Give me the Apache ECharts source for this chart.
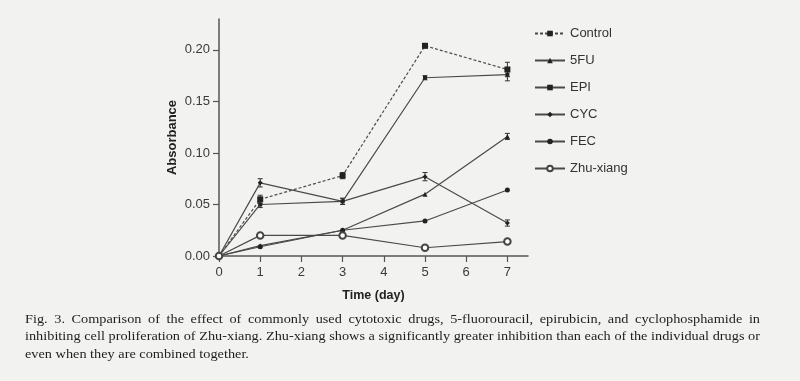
<!DOCTYPE html>
<html><head><meta charset="utf-8">
<script src="https://cdn.jsdelivr.net/npm/echarts@6/dist/echarts.min.js"></script>
<style>html,body{margin:0;padding:0;background:#f2f2f0;}#c{width:800px;height:381px;}</style>
</head><body><div id="c"></div>
<script>
const days = [0, 1, 3, 5, 7];
const xTicks = [0, 1, 2, 3, 4, 5, 6, 7];
const yTicks = [0, 0.05, 0.10, 0.15, 0.20];
const seriesNames = ['Control', '5FU', 'EPI', 'CYC', 'FEC', 'Zhu-xiang'];
const control = [0, 0.055, 0.078, 0.204, 0.181];
const fu5 = [0, 0.010, 0.025, 0.060, 0.116];
const epi = [0, 0.050, 0.053, 0.173, 0.176];
const cyc = [0, 0.071, 0.053, 0.077, 0.032];
const fec = [0, 0.009, 0.025, 0.034, 0.064];
const zhu = [0, 0.020, 0.020, 0.008, 0.014];
const controlErr = [0, 0.004, 0.003, 0.002, 0.007];
const fu5Err = [0, 0, 0, 0, 0.003];
const epiErr = [0, 0.003, 0.003, 0.002, 0.006];
const cycErr = [0, 0.004, 0.003, 0.004, 0.003];
const fecErr = [0, 0, 0, 0, 0];
const zhuErr = [0, 0, 0, 0, 0];
const caption = [
  'Fig. 3. Comparison of the effect of commonly used cytotoxic drugs, 5-fluorouracil, epirubicin, and cyclophosphamide in',
  'inhibiting cell proliferation of Zhu-xiang. Zhu-xiang shows a significantly greater inhibition than each of the individual drugs or',
  'even when they are combined together.'
];

const values = [control, fu5, epi, cyc, fec, zhu];
const errs = [controlErr, fu5Err, epiErr, cycErr, fecErr, zhuErr];
const symbols = ['rect', 'triangle', 'rect', 'diamond', 'circle', 'emptyCircle'];
const sizes = [6, 5, 4, 5, 5, 6.5];
const C = '#4a4a4a';
const BG = '#f2f2f0';

const series = [];
values.forEach((v, i) => {
  series.push({
    name: seriesNames[i], type: 'line',
    data: days.map((d, k) => [d, v[k]]),
    symbol: symbols[i], symbolSize: sizes[i],
    color: i === 5 ? '#444' : '#222',
    lineStyle: { color: C, width: 1.2, type: i === 0 ? [3, 2] : 'solid' },
    itemStyle: { color: i === 5 ? '#444' : '#222', borderWidth: i === 5 ? 0.7 : 0 },
    emphasis: { disabled: true }, z: 3
  });
  series.push({
    type: 'custom', silent: true, z: 2,
    data: days.map((d, k) => [d, v[k], errs[i][k]]),
    renderItem: function (params, api) {
      const e = api.value(2);
      if (!e) return null;
      const x = api.value(0), y = api.value(1);
      const p1 = api.coord([x, y + e]), p2 = api.coord([x, y - e]);
      const w = 2.5;
      const st = { stroke: '#333', lineWidth: 1 };
      return { type: 'group', children: [
        { type: 'line', shape: { x1: p1[0], y1: p1[1], x2: p2[0], y2: p2[1] }, style: st },
        { type: 'line', shape: { x1: p1[0] - w, y1: p1[1], x2: p1[0] + w, y2: p1[1] }, style: st },
        { type: 'line', shape: { x1: p2[0] - w, y1: p2[1], x2: p2[0] + w, y2: p2[1] }, style: st }
      ]};
    }
  });
});

// caption layout: justified lines (text positions only)
const capFont = '13px "Liberation Serif"';
const capLeft = 25, capRight = 760, capSX = 1.1;
const capTop = [313, 330.5, 348];
const mctx = document.createElement('canvas').getContext('2d');
mctx.font = capFont;
const graphics = [];
caption.forEach((line, li) => {
  const words = line.split(' ');
  const justify = li < caption.length - 1;
  const ww = words.map(w => mctx.measureText(w).width * capSX);
  const sp = mctx.measureText(' ').width * capSX;
  const total = ww.reduce((a, b) => a + b, 0);
  const gap = justify ? (capRight - capLeft - total) / (words.length - 1) : sp;
  let x = capLeft;
  words.forEach((w, k) => {
    graphics.push({
      type: 'text', x: x, y: capTop[li], scaleX: capSX, silent: true,
      style: { text: w, fill: '#1e1e1e', font: capFont, verticalAlign: 'top' }
    });
    x += ww[k] + gap;
  });
});

const chart = echarts.init(document.getElementById('c'), null, { renderer: 'canvas' });
chart.setOption({
  backgroundColor: BG,
  animation: false,
  grid: { left: 219, right: 272, top: 19, bottom: 125 },
  xAxis: {
    type: 'value', min: 0, max: 7.5, interval: 1,
    axisLine: { lineStyle: { color: '#555', width: 1.5 } },
    axisTick: { lineStyle: { color: '#555', width: 1.2 }, length: 6 },
    axisLabel: { color: '#3a3a3a', fontFamily: 'Liberation Sans', fontSize: 13, margin: 10, showMaxLabel: false,
      formatter: v => xTicks.includes(v) ? String(v) : '' },
    splitLine: { show: false },
    name: 'Time (day)', nameLocation: 'middle', nameGap: 33,
    nameTextStyle: { color: '#222', fontFamily: 'Liberation Sans', fontSize: 12.5, fontWeight: 'bold' }
  },
  yAxis: {
    type: 'value', min: 0, max: 0.23, interval: 0.05,
    axisLine: { show: true, lineStyle: { color: '#555', width: 1.5 } },
    axisTick: { show: true, lineStyle: { color: '#555', width: 1.2 }, length: 6 },
    axisLabel: { color: '#3a3a3a', fontFamily: 'Liberation Sans', fontSize: 13, margin: 9, showMaxLabel: false,
      formatter: v => { const t = yTicks.find(t => Math.abs(t - v) < 1e-9); return t === undefined ? '' : t.toFixed(2); } },
    splitLine: { show: false },
    name: 'Absorbance', nameLocation: 'middle', nameGap: 40,
    nameTextStyle: { color: '#222', fontFamily: 'Liberation Sans', fontSize: 13, fontWeight: 'bold' }
  },
  legend: {
    data: seriesNames, orient: 'vertical', left: 529, top: 22, itemGap: 14,
    itemWidth: 30, itemHeight: 7,
    textStyle: { color: '#333', fontFamily: 'Liberation Sans', fontSize: 13 }
  },
  graphic: graphics,
  series: series
});
</script></body></html>
